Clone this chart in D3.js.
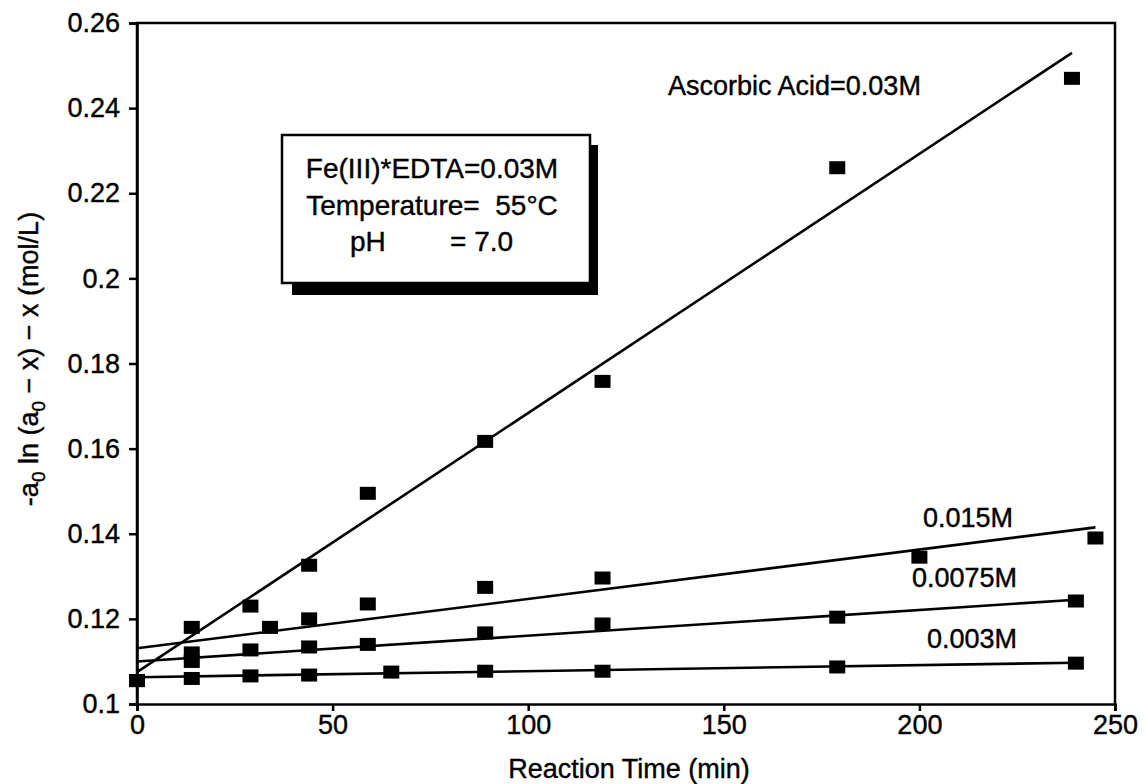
<!DOCTYPE html>
<html lang="en">

<head>
    <meta charset="UTF-8">
    <title>Reaction Time chart</title>
    <style>
        body {
            margin: 0;
            background: #fff;
        }
        svg {
            display: block;
            font-family: "Liberation Sans", Arial, sans-serif;
        }
        svg text {
            stroke: #000;
            stroke-width: 0.4px;
        }
    </style>
</head>

<body>
<script src="https://d3js.org/d3.v7.min.js"></script>
<script>
    const width = 1145
    const height = 784

    // tick labels
    const xTicks = [0, 50, 100, 150, 200, 250]
    const yTicks = [0.1, 0.12, 0.14, 0.16, 0.18, 0.2, 0.22, 0.24, 0.26]

    // measured points, one pair of arrays per ascorbic acid level
    const times03 = [0, 14, 29, 44, 59, 89, 119, 179, 239]
    const vals03 = [0.1055, 0.118, 0.123, 0.1326, 0.1495, 0.1617, 0.1758, 0.226, 0.247]
    const times015 = [14, 34, 44, 59, 89, 119, 200, 245]
    const vals015 = [0.112, 0.118, 0.120, 0.1235, 0.1274, 0.1296, 0.1345, 0.139]
    const times0075 = [14, 29, 44, 59, 89, 119, 179, 240]
    const vals0075 = [0.110, 0.1127, 0.1134, 0.114, 0.1167, 0.1188, 0.1204, 0.1242]
    const times003 = [0, 14, 29, 44, 65, 89, 119, 179, 240]
    const vals003 = [0.1055, 0.106, 0.1066, 0.1068, 0.1075, 0.1077, 0.1077, 0.1087, 0.1096]

    // fitted straight lines (start / end)
    const fitTimes = [[0, 239], [0, 245], [0, 240], [0, 240]]
    const fitVals = [[0.1075, 0.253], [0.1131, 0.1415], [0.110, 0.1245], [0.1063, 0.1097]]

    const seriesNames = ['Ascorbic Acid=0.03M', '0.015M', '0.0075M', '0.003M']
    const boxLines = ['Fe(III)*EDTA=0.03M', 'Temperature=  55°C']

    const plotLeft = 137
    const plotRight = 1115
    const plotTop = 23
    const plotBottom = 704

    const x = d3.scaleLinear().domain([0, 250]).range([plotLeft, plotRight])
    const y = d3.scaleLinear().domain([0.1, 0.26]).range([plotBottom, plotTop])

    const svg = d3.select('body').append('svg')
        .attr('width', width)
        .attr('height', height)

    drawAxes()
    drawFits()
    drawPoints()
    drawLabels()
    drawBox()

    function drawAxes() {
        // frame
        svg.append('path')
            .attr('d', `M${ plotLeft },${ plotBottom }V${ plotTop }H${ plotRight }V${ plotBottom }`)
            .attr('fill', 'none')
            .attr('stroke', '#000')
            .attr('stroke-width', 2.5)

        const xAxis = svg.append('g')
            .attr('transform', `translate(0,${ plotBottom })`)
            .call(d3.axisBottom(x).tickValues(xTicks).tickSize(7).tickPadding(4))
        const yAxis = svg.append('g')
            .attr('transform', `translate(${ plotLeft },0)`)
            .call(d3.axisLeft(y).tickValues(yTicks).tickSize(8).tickPadding(9).tickFormat(d3.format('~g')))

        ;[xAxis, yAxis].forEach(g => {
            g.selectAll('path, line').attr('stroke', '#000').attr('stroke-width', 2.5)
            g.selectAll('text').attr('fill', '#000').attr('font-size', 27).attr('font-family', 'Liberation Sans, Arial, sans-serif')
        })

        svg.append('text')
            .attr('x', (plotLeft + plotRight) / 2 + 3)
            .attr('y', 778)
            .attr('text-anchor', 'middle')
            .attr('font-size', 27)
            .text('Reaction Time (min)')

        const yl = svg.append('text')
            .attr('transform', 'translate(38,359) rotate(-90)')
            .attr('text-anchor', 'middle')
            .attr('font-size', 27)
        yl.append('tspan').text('-a')
        yl.append('tspan').attr('font-size', 19).attr('dy', 7).text('0')
        yl.append('tspan').attr('dy', -7).text(' ln (a')
        yl.append('tspan').attr('font-size', 19).attr('dy', 7).text('0')
        yl.append('tspan').attr('dy', -7).text(' − x) − x (mol/L)')
    }

    function drawFits() {
        const line = d3.line()
            .x(d => x(d[0]))
            .y(d => y(d[1]))

        svg.append('g')
            .selectAll('path')
            .data(fitTimes.map((ts, i) => ts.map((t, j) => [t, fitVals[i][j]])))
            .join('path')
            .attr('d', line)
            .attr('fill', 'none')
            .attr('stroke', '#000')
            .attr('stroke-width', 2.6)
    }

    function drawPoints() {
        const series = [
            [times03, vals03],
            [times015, vals015],
            [times0075, vals0075],
            [times003, vals003]
        ]
        const pts = series.flatMap(([ts, vs]) => ts.map((t, i) => [t, vs[i]]))

        svg.append('g')
            .selectAll('rect')
            .data(pts)
            .join('rect')
            .attr('x', d => x(d[0]) - 8)
            .attr('y', d => y(d[1]) - 6.5)
            .attr('width', 16)
            .attr('height', 13)
            .attr('fill', '#000')
    }

    function drawLabels() {
        const pos = [
            { x: 668, y: 95, anchor: 'start' },
            { x: 1013, y: 527, anchor: 'end' },
            { x: 1017, y: 587, anchor: 'end' },
            { x: 1017, y: 648, anchor: 'end' }
        ]
        svg.append('g')
            .selectAll('text')
            .data(seriesNames)
            .join('text')
            .attr('x', (_, i) => pos[i].x)
            .attr('y', (_, i) => pos[i].y)
            .attr('text-anchor', (_, i) => pos[i].anchor)
            .attr('font-size', 27)
            .text(d => d)
    }

    function drawBox() {
        const g = svg.append('g')
        // drop shadow
        g.append('rect')
            .attr('x', 292).attr('y', 145)
            .attr('width', 306).attr('height', 150)
            .attr('fill', '#000')
        g.append('rect')
            .attr('x', 282).attr('y', 135)
            .attr('width', 308).attr('height', 148)
            .attr('fill', '#fff')
            .attr('stroke', '#000')
            .attr('stroke-width', 2.5)

        g.selectAll('text.line')
            .data(boxLines)
            .join('text')
            .attr('class', 'line')
            .attr('x', 432)
            .attr('y', (_, i) => 178 + i * 37)
            .attr('text-anchor', 'middle')
            .attr('font-size', 28)
            .style('white-space', 'pre')
            .text(d => d)

        const ph = g.append('text')
            .attr('y', 251)
            .attr('font-size', 28)
        ph.append('tspan').attr('x', 350).text('pH')
        ph.append('tspan').attr('x', 450).text('= 7.0')
    }
</script>

</body>

</html>
